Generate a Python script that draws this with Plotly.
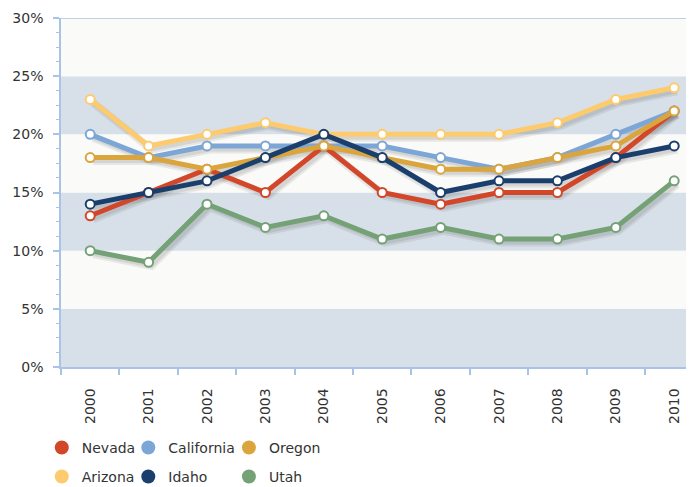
import plotly.graph_objects as go

years = ["2000", "2001", "2002", "2003", "2004", "2005", "2006", "2007", "2008", "2009", "2010"]
nevada = [13, 15, 17, 15, 19, 15, 14, 15, 15, 18, 22]
california = [20, 18, 19, 19, 19, 19, 18, 17, 18, 20, 22]
oregon = [18, 18, 17, 18, 19, 18, 17, 17, 18, 19, 22]
arizona = [23, 19, 20, 21, 20, 20, 20, 20, 21, 23, 24]
idaho = [14, 15, 16, 18, 20, 18, 15, 16, 16, 18, 19]
utah = [10, 9, 14, 12, 13, 11, 12, 11, 11, 12, 16]

series = [
    ("Nevada", nevada, "#d2472a"),
    ("California", california, "#7ba6d6"),
    ("Oregon", oregon, "#dba53e"),
    ("Arizona", arizona, "#fdcb6e"),
    ("Idaho", idaho, "#1a3f6d"),
    ("Utah", utah, "#74a176"),
]

y_ticks = [0, 5, 10, 15, 20, 25, 30]
y_tick_text = ["0%", "5%", "10%", "15%", "20%", "25%", "30%"]

FONT = "DejaVu Sans"
AXIS_BLUE = "#a8c3e6"
X_RANGE = [-0.5, 10.476]
Y_RANGE = [0, 30]

fig = go.Figure()

# soft shadows on overlay axes shifted a few pixels down-right
for name, vals, color in series:
    fig.add_trace(go.Scatter(
        x=years, y=vals, mode="lines", xaxis="x2", yaxis="y2",
        line=dict(color="rgba(70,70,70,0.10)", width=8),
        showlegend=False, hoverinfo="skip",
    ))
    fig.add_trace(go.Scatter(
        x=years, y=vals, mode="lines", xaxis="x2", yaxis="y2",
        line=dict(color="rgba(70,70,70,0.12)", width=4),
        showlegend=False, hoverinfo="skip",
    ))

# main lines
for name, vals, color in series:
    fig.add_trace(go.Scatter(
        x=years, y=vals, mode="lines+markers", name=name, xaxis="x3", yaxis="y3",
        line=dict(color=color, width=5),
        marker=dict(size=9, color="white", line=dict(color=color, width=2)),
        showlegend=False,
    ))

# legend entries: 2 rows x 3 columns
legend_cols = [-0.030, 0.105, 0.262]
legend_rows = [-0.232, -0.315]
for i, (name, vals, color) in enumerate(series):
    lid = "legend" if i == 0 else f"legend{i+1}"
    fig.add_trace(go.Scatter(
        x=[None], y=[None], mode="markers", name=name, legend=lid,
        marker=dict(size=14, color=color), showlegend=True,
    ))

shapes = []
band_colors = ["#d7e0e8", "#fafaf9"]
for i in range(6):
    shapes.append(dict(
        type="rect", xref="paper", yref="y", x0=0, x1=1,
        y0=i * 5, y1=i * 5 + 5, fillcolor=band_colors[i % 2],
        line=dict(width=0), layer="below",
    ))
shapes.append(dict(type="line", xref="paper", yref="y", x0=0, x1=1, y0=30, y1=30,
                   line=dict(color=AXIS_BLUE, width=1.5), layer="above"))

layout = dict(
    width=694, height=487,
    margin=dict(l=53, r=0, t=10, b=128, autoexpand=False),
    paper_bgcolor="white", plot_bgcolor="white",
    font=dict(family=FONT, size=12, color="#333333"),
    shapes=shapes,
    xaxis=dict(
        type="category", categoryorder="array", categoryarray=years,
        range=X_RANGE, tickson="boundaries", ticks="outside", ticklen=6,
        tickcolor=AXIS_BLUE, tickwidth=1.5, showline=True, linecolor=AXIS_BLUE,
        linewidth=1.5, showgrid=False, tickangle=-90, zeroline=False,
        tickfont=dict(family=FONT, size=14, color="#333333"),
        ticklabelstandoff=14, automargin=False,
    ),
    yaxis=dict(
        range=Y_RANGE, tickvals=y_ticks, ticktext=y_tick_text, ticks="outside",
        ticklen=6, tickcolor=AXIS_BLUE, tickwidth=1.5, showline=True,
        linecolor=AXIS_BLUE, linewidth=1.5, showgrid=False, zeroline=False,
        minor=dict(dtick=1.25, ticks="outside", ticklen=3, tickcolor=AXIS_BLUE, tickwidth=1),
        tickfont=dict(family=FONT, size=14, color="#333333"),
        ticklabelstandoff=7, automargin=False,
    ),
    xaxis2=dict(type="category", categoryorder="array", categoryarray=years,
                range=[X_RANGE[0] - 0.05, X_RANGE[1] - 0.05], overlaying="x",
                visible=False),
    yaxis2=dict(range=[Y_RANGE[0] + 0.3, Y_RANGE[1] + 0.3], overlaying="y", visible=False),
    xaxis3=dict(type="category", categoryorder="array", categoryarray=years,
                range=X_RANGE, overlaying="x", visible=False),
    yaxis3=dict(range=Y_RANGE, overlaying="y", visible=False),
)

for i in range(len(series)):
    lid = "legend" if i == 0 else f"legend{i+1}"
    layout[lid] = dict(
        x=legend_cols[i % 3], y=legend_rows[i // 3], xanchor="left", yanchor="middle",
        orientation="h", bgcolor="rgba(0,0,0,0)",
        font=dict(family=FONT, size=14, color="#333333"),
        itemsizing="trace",
    )

fig.update_layout(**layout)
fig.write_html("out.html")
